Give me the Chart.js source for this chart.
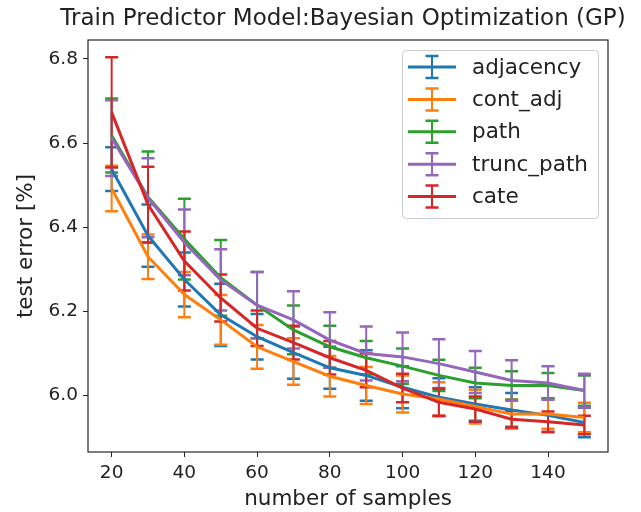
<!DOCTYPE html>
<html>
<head>
<meta charset="utf-8">
<script src="https://cdn.jsdelivr.net/npm/chart.js@4.4.0/dist/chart.umd.min.js"></script>
<style>
  html, body { margin: 0; padding: 0; background: #fff; }
</style>
</head>
<body>
<canvas id="errChart" width="641" height="512"></canvas>
<script>
// number of training samples (x axis)
const samples = [20, 30, 40, 50, 60, 70, 80, 90, 100, 110, 120, 130, 140, 150];

// mean test error [%] and error bar half-width per encoding
const adjacencyMean = [6.538, 6.380, 6.276, 6.192, 6.140, 6.102, 6.066, 6.048, 6.020, 5.996, 5.980, 5.966, 5.953, 5.936];
const adjacencyErr  = [0.052, 0.074, 0.064, 0.074, 0.054, 0.062, 0.050, 0.060, 0.050, 0.045, 0.040, 0.040, 0.040, 0.035];
const contAdjMean   = [6.492, 6.330, 6.240, 6.180, 6.116, 6.081, 6.046, 6.024, 6.004, 5.992, 5.974, 5.956, 5.956, 5.948];
const contAdjErr    = [0.054, 0.053, 0.054, 0.059, 0.052, 0.055, 0.048, 0.044, 0.044, 0.040, 0.040, 0.035, 0.035, 0.035];
const pathMean      = [6.618, 6.472, 6.372, 6.280, 6.215, 6.156, 6.116, 6.090, 6.070, 6.048, 6.030, 6.024, 6.024, 6.012];
const pathErr       = [0.088, 0.108, 0.096, 0.090, 0.079, 0.058, 0.050, 0.040, 0.042, 0.037, 0.036, 0.034, 0.030, 0.036];
const truncPathMean = [6.612, 6.470, 6.364, 6.275, 6.215, 6.180, 6.132, 6.100, 6.092, 6.076, 6.056, 6.036, 6.030, 6.012];
const truncPathErr  = [0.090, 0.094, 0.078, 0.073, 0.079, 0.068, 0.066, 0.064, 0.058, 0.058, 0.050, 0.048, 0.040, 0.040];
const cateMean      = [6.673, 6.454, 6.320, 6.232, 6.160, 6.126, 6.090, 6.060, 6.018, 5.984, 5.968, 5.944, 5.938, 5.930];
const cateErr       = [0.131, 0.090, 0.070, 0.056, 0.042, 0.040, 0.040, 0.040, 0.034, 0.032, 0.030, 0.020, 0.024, 0.022];

const seriesLabels = ['adjacency', 'cont_adj', 'path', 'trunc_path', 'cate'];
const seriesMeans = [adjacencyMean, contAdjMean, pathMean, truncPathMean, cateMean];
const seriesErrs = [adjacencyErr, contAdjErr, pathErr, truncPathErr, cateErr];
const seriesColors = ['#1f77b4', '#ff7f0e', '#2ca02c', '#9467bd', '#d62728'];

const xTicks = [20, 40, 60, 80, 100, 120, 140];
const yTicks = [6.0, 6.2, 6.4, 6.6, 6.8];

const chartTitle = 'Train Predictor Model:Bayesian Optimization (GP)';

const FONT = "'DejaVu Sans', sans-serif";
const TEXT = '#222';

// vertical bars + caps, drawn under all the lines
const errorBars = {
    id: 'errorBars',
    beforeDatasetsDraw(chart) {
        const {ctx, scales: {x, y}} = chart;
        ctx.save();
        chart.data.datasets.forEach(ds => {
            ctx.strokeStyle = ds.borderColor;
            ds.data.forEach((p, j) => {
                const px = x.getPixelForValue(p.x);
                const top = y.getPixelForValue(p.y + ds.errors[j]);
                const bot = y.getPixelForValue(p.y - ds.errors[j]);
                ctx.lineWidth = 2;
                ctx.beginPath();
                ctx.moveTo(px, top);
                ctx.lineTo(px, bot);
                ctx.stroke();
                ctx.lineWidth = 2.5;
                ctx.beginPath();
                ctx.moveTo(px - 6.5, top); ctx.lineTo(px + 6.5, top);
                ctx.moveTo(px - 6.5, bot); ctx.lineTo(px + 6.5, bot);
                ctx.stroke();
            });
        });
        ctx.restore();
    }
};

// title, axes frame and the legend box in the upper right corner
const frameAndLegend = {
    id: 'frameAndLegend',
    afterDraw(chart) {
        const {ctx, chartArea: a} = chart;
        ctx.save();

        // title is wider than the plot, so it is drawn here instead of the title plugin
        ctx.fillStyle = TEXT;
        ctx.font = '23px ' + FONT;
        ctx.textAlign = 'center';
        ctx.textBaseline = 'middle';
        ctx.fillText(chartTitle, (a.left + a.right) / 2 - 5, a.top - 21);
        ctx.textAlign = 'left';

        ctx.strokeStyle = '#262626';
        ctx.lineWidth = 1.2;
        ctx.strokeRect(a.left, a.top, a.right - a.left, a.bottom - a.top);

        const w = 196, h = 168;
        const bx = a.right - 10 - w, by = a.top + 10;
        ctx.fillStyle = 'rgba(255,255,255,0.8)';
        ctx.strokeStyle = '#cccccc';
        ctx.lineWidth = 1;
        ctx.beginPath();
        ctx.roundRect(bx + 0.5, by + 0.5, w, h, 4);
        ctx.fill();
        ctx.stroke();

        ctx.font = '21.5px ' + FONT;
        chart.data.datasets.forEach((ds, i) => {
            const cy = by + 17 + i * 32.4;
            const cx = bx + 30;
            ctx.strokeStyle = ds.borderColor;
            ctx.lineWidth = 3;
            ctx.beginPath();
            ctx.moveTo(bx + 6, cy); ctx.lineTo(bx + 54, cy);
            ctx.stroke();
            ctx.lineWidth = 2;
            ctx.beginPath();
            ctx.moveTo(cx, cy - 11); ctx.lineTo(cx, cy + 11);
            ctx.stroke();
            ctx.lineWidth = 2.5;
            ctx.beginPath();
            ctx.moveTo(cx - 6.5, cy - 11); ctx.lineTo(cx + 6.5, cy - 11);
            ctx.moveTo(cx - 6.5, cy + 11); ctx.lineTo(cx + 6.5, cy + 11);
            ctx.stroke();
            ctx.fillStyle = TEXT;
            ctx.fillText(ds.label, bx + 70, cy + 1);
        });
        ctx.restore();
    }
};

const datasets = seriesLabels.map((label, i) => ({
    label: label,
    data: samples.map((s, j) => ({x: s, y: seriesMeans[i][j]})),
    errors: seriesErrs[i],
    borderColor: seriesColors[i],
    backgroundColor: seriesColors[i],
    borderWidth: 3,
    pointRadius: 0,
    tension: 0,
    fill: false,
    order: seriesLabels.length - i
}));

new Chart(document.getElementById('errChart').getContext('2d'), {
    type: 'line',
    data: { datasets: datasets },
    plugins: [errorBars, frameAndLegend],
    options: {
        responsive: false,
        animation: false,
        layout: { padding: { left: 0, right: 33, top: 40, bottom: 0 } },
        plugins: {
            legend: { display: false },
            tooltip: { enabled: false },
            title: { display: false }
        },
        scales: {
            x: {
                type: 'linear',
                min: 13.5,
                max: 156.5,
                afterBuildTicks: s => { s.ticks = xTicks.map(v => ({value: v})); },
                afterFit: s => { s.height = 60; },
                border: { display: false },
                grid: { drawOnChartArea: false, drawTicks: true, tickLength: 5, tickColor: '#262626' },
                ticks: {
                    color: TEXT,
                    padding: 5,
                    maxRotation: 0,
                    font: { family: FONT, size: 18.5 }
                },
                title: {
                    display: true,
                    text: 'number of samples',
                    color: TEXT,
                    padding: { top: 0, bottom: 0 },
                    font: { family: FONT, size: 21.5 }
                }
            },
            y: {
                min: 5.866,
                max: 6.845,
                afterBuildTicks: s => { s.ticks = yTicks.map(v => ({value: v})); },
                afterFit: s => { s.width = 88; },
                border: { display: false },
                grid: { drawOnChartArea: false, drawTicks: true, tickLength: 5, tickColor: '#262626' },
                ticks: {
                    color: TEXT,
                    padding: 5,
                    font: { family: FONT, size: 18.5 },
                    callback: v => v.toFixed(1)
                },
                title: {
                    display: true,
                    text: 'test error [%]',
                    color: TEXT,
                    padding: { top: 14, bottom: 0 },
                    font: { family: FONT, size: 21.5 }
                }
            }
        }
    }
});
</script>
</body>
</html>
